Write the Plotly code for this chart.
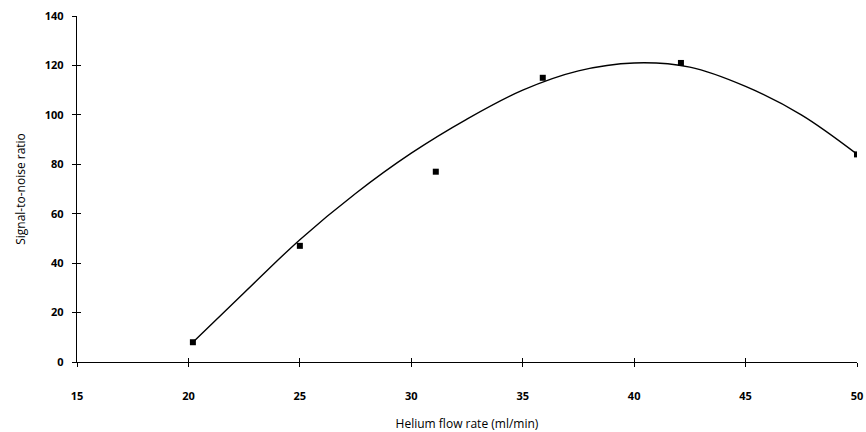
import plotly.graph_objects as go

# Measured signal-to-noise ratio at each helium flow rate
flow_rate = [20.2, 25.0, 31.1, 35.9, 42.1, 50.0]
snr = [8, 47, 77, 115, 121, 84]

# Hand-smoothed response curve drawn through the measurements
trend_rate = [20.2, 22.5, 25.0, 27.5, 30.0, 32.5, 35.0, 37.5, 40.0, 42.5, 45.0, 47.5, 50.0]
trend_snr = [8, 28, 49.5, 68.2, 84.5, 98.3, 110, 117.8, 121, 119.3, 111.5, 100, 84.1]

x_ticks = [15, 20, 25, 30, 35, 40, 45, 50]
y_ticks = [0, 20, 40, 60, 80, 100, 120, 140]

font_family = "Open Sans, Noto Sans, sans-serif"

fig = go.Figure()
fig.add_trace(go.Scatter(x=trend_rate, y=trend_snr, mode="lines",
                         line=dict(color="black", width=1.4, shape="spline", smoothing=1),
                         hoverinfo="skip", showlegend=False))
fig.add_trace(go.Scatter(x=flow_rate, y=snr, mode="markers",
                         marker=dict(symbol="square", size=6, color="black"),
                         showlegend=False))

axis_common = dict(showgrid=False, zeroline=False, showline=True, automargin=False,
                   linecolor="black", linewidth=1.3,
                   ticks="outside", ticklen=4, tickcolor="black", tickwidth=1,
                   tickfont=dict(family=font_family, size=11, color="black", weight="bold"))

fig.update_layout(
    width=866, height=432,
    margin=dict(l=77, r=9, t=16, b=70),
    paper_bgcolor="white", plot_bgcolor="white",
    font=dict(family=font_family, color="black"),
    xaxis=dict(range=[15, 50], tickvals=x_ticks, ticktext=[str(v) for v in x_ticks],
               title=dict(text="Helium flow rate (ml/min)", font=dict(size=12), standoff=17),
               ticklabelstandoff=20,
               **axis_common),
    yaxis=dict(range=[0, 140], tickvals=y_ticks, ticktext=[str(v) for v in y_ticks],
               title=dict(text="Signal-to-noise ratio", font=dict(size=12), standoff=16),
               ticklabelstandoff=6,
               **axis_common),
    # mirrored axes carrying inward ticks so the tick marks cross the axis lines
    xaxis2=dict(range=[15, 50], overlaying="x", side="bottom", anchor="y2",
                tickvals=x_ticks, showticklabels=False, ticks="inside", ticklen=4,
                tickcolor="black", showgrid=False, zeroline=False, showline=False),
    yaxis2=dict(range=[0, 140], overlaying="y", side="left", anchor="x2",
                tickvals=y_ticks, showticklabels=False, ticks="inside", ticklen=4,
                tickcolor="black", showgrid=False, zeroline=False, showline=False),
)

# invisible trace to activate the mirrored axes
fig.add_trace(go.Scatter(x=[15], y=[0], xaxis="x2", yaxis="y2", mode="markers",
                         marker=dict(opacity=0), hoverinfo="skip", showlegend=False))

fig.write_html("out.html")
